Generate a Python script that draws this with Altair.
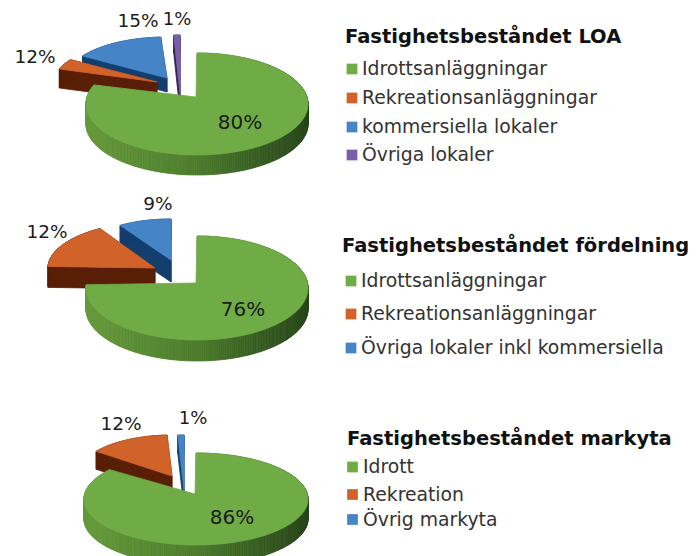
import math
import altair as alt

# ---- values
titles = ["Fastighetsbeståndet LOA", "Fastighetsbeståndet fördelning", "Fastighetsbeståndet markyta"]
legend_1 = ["Idrottsanläggningar", "Rekreationsanläggningar", "kommersiella lokaler", "Övriga lokaler"]
legend_2 = ["Idrottsanläggningar", "Rekreationsanläggningar", "Övriga lokaler inkl kommersiella"]
legend_3 = ["Idrott", "Rekreation", "Övrig markyta"]
shares_1 = [80, 12, 15, 1]
shares_2 = [76, 12, 9]
shares_3 = [86, 12, 1]

# ---- style
GREEN, ORANGE, BLUE, PURPLE = "#6fac46", "#d0622a", "#4684c8", "#7a5fa8"
ORANGE_W, BLUE_W, PURPLE_W = "#591f06", "#133f6e", "#2e2050"
FONT = "DejaVu Sans"
OFF = 8


def pts(ax, ay, cx, cy, rx, ry, a0, a1):
    n = max(2, int(abs(a1 - a0)) + 1)
    out = [(ax, ay)]
    for i in range(n + 1):
        t = math.radians(a0 + (a1 - a0) * i / n)
        out.append((cx + rx * math.sin(t), cy - ry * math.cos(t)))
    return out


features = []


def poly(p, color):
    ring = [[x - OFF, y - OFF] for x, y in p]
    ring.append(ring[0])
    features.append({"type": "Feature", "properties": {"fill": color},
                     "geometry": {"type": "Polygon", "coordinates": [ring]}})


def slice3d(ax, ay, rx, ry, a0, a1, depth, top, wall):
    p = pts(ax, ay, ax, ay, rx, ry, a0, a1)
    for i in range(len(p)):
        a, b = p[i], p[(i + 1) % len(p)]
        poly([a, b, (b[0], b[1] + depth), (a[0], a[1] + depth)], wall)
    poly(p, top)


def mix(c1, c2, f):
    a = [int(c1[i:i + 2], 16) for i in (1, 3, 5)]
    b = [int(c2[i:i + 2], 16) for i in (1, 3, 5)]
    return "#%02x%02x%02x" % tuple(round(x + (y - x) * f) for x, y in zip(a, b))


def green3d(ax, ay, cx, cy, rx, ry, share, depth, adj=0):
    end = share * 3.6 + adj
    p = pts(ax, ay, cx, cy, rx, ry, 0, end)[1:]
    for a, b in zip(p, p[1:]):
        f = (a[0] - (cx - rx)) / (2 * rx)
        col = mix("#669a3b", "#4c7c2c", f / 0.5) if f < 0.5 else mix("#4c7c2c", "#27451a", (f - 0.5) / 0.5)
        poly([a, b, (b[0], b[1] + depth), (a[0], a[1] + depth)], col)
    poly(pts(ax, ay, cx, cy, rx, ry, 0, end), GREEN)


# Pie 1
slice3d(180, 94, 100, 59, 360 - shares_1[3] * 3.6, 360, 18, PURPLE, PURPLE_W)
slice3d(167, 78, 100, 41, 356.4 - shares_1[2] * 3.6, 356.4, 14, BLUE, BLUE_W)
slice3d(157, 82, 103, 41, 288.5, 303, 19, ORANGE, ORANGE_W)
green3d(196, 97, 197, 104, 111, 51, shares_1[0], 20, adj=4)
# Pie 2
slice3d(171, 260, 95, 41, 360 - shares_2[2] * 3.6, 360, 22, BLUE, BLUE_W)
slice3d(155, 268, 107, 46, 272, 329, 21, ORANGE, ORANGE_W)
green3d(196, 283, 197, 288, 111, 52, shares_2[0], 21)
# Pie 3
slice3d(184, 490, 100, 55, 360 - shares_3[2] * 3.6, 360, 18, BLUE, BLUE_W)
slice3d(172, 476, 95, 41, 307, 357, 18, ORANGE, ORANGE_W)
green3d(195, 494, 196, 499, 112, 46, shares_3[0], 20)

shapes = alt.Chart(alt.Data(values=features)).mark_geoshape(strokeWidth=0.8).encode(
    fill=alt.Color("properties.fill:N", scale=None),
    stroke=alt.Color("properties.fill:N", scale=None),
).project(type="identity", scale=1, translate=[0, 0])

# ---- percentage labels
labels = []
for vals, places, sizes in [
    (shares_1, [(240, 123), (35, 57), (138, 21), (177, 20)], [20, 18.5, 18.5, 18]),
    (shares_2, [(243, 310), (47, 232), (158, 204)], [20, 18.5, 18.5]),
    (shares_3, [(232, 518), (121, 424), (193, 419)], [20, 18.5, 18]),
]:
    for v, (x, y), s in zip(vals, places, sizes):
        labels.append({"t": f"{v}%", "x": x - OFF, "y": y - OFF, "s": s})

X = alt.X("x:Q", scale=None, axis=None)
Y = alt.Y("y:Q", scale=None, axis=None)

pct = alt.Chart(alt.Data(values=labels)).mark_text(
    font=FONT, color="#1c1c1c", align="center", baseline="middle"
).encode(x=X, y=Y, text="t:N", size=alt.Size("s:Q", scale=None, legend=None))

# ---- titles
title_rows = [{"t": t, "x": x - OFF, "y": y - OFF} for t, x, y in zip(titles, [345, 342, 347], [43, 252, 445])]
ttl = alt.Chart(alt.Data(values=title_rows)).mark_text(
    font=FONT, fontSize=19.5, fontWeight="bold", color="#111111", align="left", baseline="alphabetic"
).encode(x=X, y=Y, text="t:N")

# ---- legends
rows = []
for names, colors, sx, tx, ys in [
    (legend_1, [GREEN, ORANGE, BLUE, PURPLE], 352, 362, [69, 98, 127, 155]),
    (legend_2, [GREEN, ORANGE, BLUE], 351, 361, [281, 314, 348]),
    (legend_3, [GREEN, ORANGE, BLUE], 352.5, 363, [467, 494.5, 519.5]),
]:
    for n, c, y in zip(names, colors, ys):
        rows.append({"t": n, "c": c, "sx": sx - OFF, "tx": tx - OFF, "y": y - OFF})

sq = alt.Chart(alt.Data(values=rows)).mark_square(size=115, opacity=1, filled=True).encode(
    x=alt.X("sx:Q", scale=None, axis=None), y=Y, color=alt.Color("c:N", scale=None)
)
txt = alt.Chart(alt.Data(values=rows)).mark_text(
    font=FONT, fontSize=18.8, color="#333333", align="left", baseline="middle"
).encode(x=alt.X("tx:Q", scale=None, axis=None), y=Y, text="t:N")

chart = alt.layer(shapes, pct, ttl, sq, txt).resolve_scale(color="independent").properties(
    width=680, height=548, padding=0, autosize=alt.AutoSizeParams(type="none")
).configure_view(stroke=None)

chart.save("out.html", embed_options={"renderer": "svg", "actions": False})
